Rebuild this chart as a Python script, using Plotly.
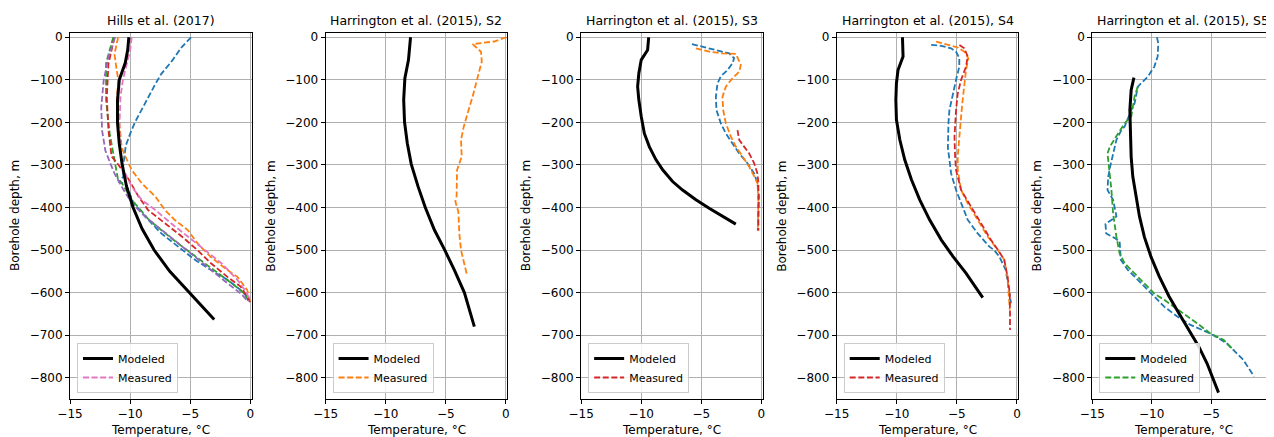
import plotly.graph_objects as go

# ---------------- data ----------------
panel_titles = ["Hills et al. (2017)", "Harrington et al. (2015), S2",
                "Harrington et al. (2015), S3", "Harrington et al. (2015), S4",
                "Harrington et al. (2015), S5"]
x_ticks = [-15, -10, -5, 0]
y_ticks = [-800, -700, -600, -500, -400, -300, -200, -100, 0]

# Hills et al. (2017)
hills_model_depth = [0, -30, -60, -100, -150, -200, -250, -300, -350, -400, -450, -500, -550, -600, -630, -663]
hills_model_temp = [-10.1, -10.2, -10.4, -10.9, -11.05, -11.05, -10.9, -10.65, -10.3, -9.75, -9.0, -8.0, -6.7, -5.1, -4.1, -3.0]
hills_blue_depth = [0, -23, -55, -86, -110, -141, -168, -200, -227, -255, -286, -310, -327, -340, -345, -355, -390, -421, -461, -492, -523, -547, -570, -594, -610, -620]
hills_blue_temp = [-4.93, -5.7, -6.5, -7.4, -7.9, -8.5, -9.0, -9.6, -10.0, -10.36, -10.5, -10.6, -10.55, -10.9, -10.4, -10.2, -9.7, -8.76, -7.4, -6.0, -4.6, -3.27, -1.9, -0.8, -0.25, -0.1]
hills_orange_depth = [0, -40, -80, -102, -141, -180, -219, -259, -280, -312, -343, -374, -406, -429, -453, -484, -516, -547, -563, -594, -620]
hills_orange_temp = [-11.0, -11.3, -11.1, -10.97, -11.1, -10.97, -10.8, -10.7, -10.4, -9.86, -9.04, -7.9, -7.1, -6.3, -5.2, -4.4, -3.3, -1.9, -1.07, -0.25, -0.05]
hills_green_depth = [0, -61, -147, -226, -288, -320, -335, -342, -382, -430, -476, -531, -582, -602, -620]
hills_green_temp = [-11.4, -12.0, -12.0, -11.7, -11.3, -11.1, -11.0, -10.7, -9.86, -8.4, -6.4, -3.8, -1.35, -0.5, -0.15]
hills_red_depth = [0, -63, -141, -219, -280, -300, -335, -374, -406, -437, -468, -500, -531, -563, -586, -610, -622]
hills_red_temp = [-11.3, -11.8, -11.94, -11.8, -11.54, -10.96, -10.1, -9.3, -8.5, -7.1, -5.7, -4.4, -3.27, -1.9, -0.8, -0.25, 0.0]
hills_purple_depth = [0, -47, -102, -165, -219, -266, -296, -320, -351, -390, -421, -453, -484, -515, -547, -578, -602, -620]
hills_purple_temp = [-11.25, -11.8, -12.2, -12.4, -12.33, -12.06, -11.65, -11.3, -10.7, -9.86, -8.76, -7.4, -6.0, -4.64, -3.27, -1.9, -0.8, -0.2]
hills_pink_depth = [0, -31, -63, -100, -141, -219, -286, -312, -351, -382, -406, -437, -468, -500, -531, -570, -602, -620]
hills_pink_temp = [-9.86, -10.0, -10.28, -10.6, -10.8, -10.9, -10.75, -10.55, -9.86, -9.04, -7.9, -6.6, -5.2, -3.8, -2.4, -1.07, -0.25, -0.1]

# Harrington et al. (2015), S2
s2_model_depth = [0, -53, -96, -147, -199, -249, -298, -351, -400, -453, -499, -547, -600, -680]
s2_model_temp = [-7.93, -8.1, -8.4, -8.5, -8.43, -8.2, -7.87, -7.3, -6.7, -5.94, -5.1, -4.28, -3.45, -2.62]
s2_orange_depth = [0, -10, -16, -34, -57, -96, -139, -179, -210, -241, -280, -312, -374, -386, -410, -461, -500, -559]
s2_orange_temp = [0.05, -0.97, -2.76, -2.07, -2.0, -2.35, -2.76, -3.18, -3.5, -3.73, -3.67, -4.06, -4.1, -4.2, -3.95, -3.87, -3.73, -3.23]

# Harrington et al. (2015), S3
s3_model_depth = [0, -30, -53, -85, -116, -147, -186, -226, -257, -288, -312, -339, -359, -382, -402, -421, -439]
s3_model_temp = [-9.38, -9.47, -10.0, -10.2, -10.3, -10.2, -10.0, -9.74, -9.33, -8.77, -8.2, -7.39, -6.56, -5.45, -4.35, -3.24, -2.13]
s3_blue_depth = [-16, -22, -30, -38, -49, -61, -77, -92, -108, -140, -171, -202, -226, -249, -273, -296, -320, -343, -375, -414, -454]
s3_blue_temp = [-5.78, -4.9, -3.79, -2.68, -2.27, -2.4, -2.82, -3.38, -3.65, -3.79, -3.74, -3.38, -2.96, -2.4, -1.85, -1.16, -0.6, -0.33, -0.2, -0.25, -0.3]
s3_orange_depth = [-26, -34, -38, -39, -53, -65, -81, -96, -116, -140, -171, -202, -233, -257, -280, -304, -327, -343, -380, -420, -455]
s3_orange_temp = [-5.45, -4.34, -3.24, -2.13, -1.9, -1.71, -1.85, -2.4, -2.96, -3.24, -3.18, -2.96, -2.55, -2.13, -1.57, -1.02, -0.6, -0.33, -0.25, -0.25, -0.3]
s3_red_depth = [-218, -241, -257, -273, -296, -320, -343, -380, -420, -454]
s3_red_temp = [-1.99, -1.85, -1.44, -1.02, -0.6, -0.33, -0.25, -0.25, -0.25, -0.25]

# Harrington et al. (2015), S4
s4_model_depth = [0, -45, -77, -108, -147, -194, -241, -288, -335, -382, -429, -476, -515, -555, -612]
s4_model_temp = [-9.53, -9.48, -9.9, -10.03, -10.08, -10.03, -9.75, -9.34, -8.78, -8.09, -7.27, -6.3, -5.33, -4.23, -2.85]
s4_blue_depth = [-18, -20, -26, -34, -49, -69, -100, -132, -171, -200, -233, -260, -288, -320, -359, -390, -429, -461, -492, -500, -515, -547, -594, -625]
s4_blue_temp = [-7.14, -6.31, -5.48, -5.07, -4.8, -4.8, -5.07, -5.34, -5.62, -5.7, -5.75, -5.75, -5.62, -5.48, -5.07, -4.65, -4.1, -3.27, -2.3, -1.9, -1.48, -0.93, -0.65, -0.5]
s4_orange_depth = [-10, -18, -24, -34, -49, -77, -108, -147, -186, -233, -280, -312, -359, -390, -429, -468, -500, -523, -562, -609, -640]
s4_orange_temp = [-6.73, -5.76, -4.93, -4.38, -4.05, -4.24, -4.38, -4.52, -4.65, -4.8, -4.93, -4.93, -4.65, -4.1, -3.27, -2.44, -1.6, -1.06, -0.79, -0.65, -0.6]
s4_red_depth = [-18, -26, -45, -69, -100, -132, -171, -202, -233, -280, -312, -359, -398, -437, -476, -504, -523, -562, -602, -650, -688]
s4_red_temp = [-4.79, -4.38, -4.1, -4.24, -4.65, -4.93, -5.07, -5.15, -5.2, -5.15, -5.07, -4.65, -3.83, -3.0, -2.17, -1.48, -1.06, -0.79, -0.6, -0.58, -0.58]

# Harrington et al. (2015), S5
s5_model_depth = [-95, -124, -171, -218, -281, -328, -375, -421, -469, -516, -562, -609, -649, -688, -727, -766, -798, -835]
s5_model_temp = [-11.5, -11.73, -11.84, -11.81, -11.73, -11.59, -11.3, -11.03, -10.62, -10.06, -9.37, -8.54, -7.7, -6.87, -6.04, -5.35, -4.93, -4.38]
s5_blue_depth = [0, -14, -45, -69, -93, -108, -116, -155, -171, -210, -218, -241, -273, -304, -328, -359, -382, -421, -439, -461, -472, -480, -523, -547, -570, -602, -633, -656, -676, -696, -719, -758, -797]
s5_blue_temp = [-9.56, -9.45, -9.5, -9.78, -10.34, -10.9, -11.17, -11.44, -11.72, -12.28, -12.55, -12.97, -13.25, -13.5, -13.66, -13.72, -13.25, -12.97, -13.89, -13.83, -13.1, -12.7, -12.6, -12.0, -11.17, -10.06, -8.95, -7.85, -6.74, -5.07, -3.69, -2.3, -1.39]
s5_green_depth = [-116, -140, -186, -202, -226, -257, -273, -359, -414, -469, -508, -531, -555, -578, -602, -617, -633, -649, -672, -696, -711, -736]
s5_green_temp = [-11.17, -11.45, -11.72, -12.28, -12.83, -13.52, -13.72, -13.39, -13.25, -12.97, -12.7, -12.28, -11.45, -10.62, -9.79, -8.95, -8.12, -7.29, -6.18, -5.07, -3.96, -3.08]

# ---------------- styling ----------------
BLUE, ORANGE, GREEN, RED, PURPLE, PINK = "#1f77b4", "#ff7f0e", "#2ca02c", "#d62728", "#9467bd", "#e377c2"
FONT = "DejaVu Sans"

panels = [
    dict(model=(hills_model_temp, hills_model_depth),
         measured=[(hills_blue_temp, hills_blue_depth, BLUE), (hills_orange_temp, hills_orange_depth, ORANGE),
                   (hills_green_temp, hills_green_depth, GREEN), (hills_red_temp, hills_red_depth, RED),
                   (hills_purple_temp, hills_purple_depth, PURPLE), (hills_pink_temp, hills_pink_depth, PINK)]),
    dict(model=(s2_model_temp, s2_model_depth),
         measured=[(s2_orange_temp, s2_orange_depth, ORANGE)]),
    dict(model=(s3_model_temp, s3_model_depth),
         measured=[(s3_blue_temp, s3_blue_depth, BLUE), (s3_orange_temp, s3_orange_depth, ORANGE),
                   (s3_red_temp, s3_red_depth, RED)]),
    dict(model=(s4_model_temp, s4_model_depth),
         measured=[(s4_blue_temp, s4_blue_depth, BLUE), (s4_orange_temp, s4_orange_depth, ORANGE),
                   (s4_red_temp, s4_red_depth, RED)]),
    dict(model=(s5_model_temp, s5_model_depth),
         measured=[(s5_blue_temp, s5_blue_depth, BLUE), (s5_green_temp, s5_green_depth, GREEN)]),
]

# the page body has an 8px margin, so the figure is drawn 8px in from the top-left corner
BODY = 8
W, H = 1274 - BODY, 437 - BODY
ML, MR, MT, MB = 62, 0, 25, 38
PW, PH = W - ML - MR, H - MT - MB
PANEL_STEP, PANEL_W = 256, 182

fig = go.Figure()
layout = dict(width=W, height=H, autosize=False,
              margin=dict(l=ML, r=MR, t=MT, b=MB, pad=0),
              paper_bgcolor="white", plot_bgcolor="white",
              font=dict(family=FONT, size=12, color="black"),
              showlegend=True, annotations=[])

for i, p in enumerate(panels):
    sfx = "" if i == 0 else str(i + 1)
    xa, ya = "x" + sfx, "y" + sfx
    lg = "legend" + sfx
    x0 = i * PANEL_STEP / PW
    x1 = min(1.0, (i * PANEL_STEP + PANEL_W) / PW)
    for j, (t, d, c) in enumerate(p["measured"]):
        last = j == len(p["measured"]) - 1
        fig.add_trace(go.Scatter(x=t, y=d, mode="lines", xaxis=xa, yaxis=ya,
                                 line=dict(color=c, width=1.8, dash="6px,2.6px"),
                                 name="Measured", showlegend=last, legend=lg, legendrank=2))
    mt, md = p["model"]
    fig.add_trace(go.Scatter(x=mt, y=md, mode="lines", xaxis=xa, yaxis=ya,
                             line=dict(color="black", width=3), name="Modeled",
                             showlegend=True, legend=lg, legendrank=1))

    common = dict(showline=True, linecolor="black", linewidth=1, mirror=True,
                  ticks="outside", ticklen=4, tickcolor="black", tickwidth=1,
                  showgrid=True, gridcolor="#b0b0b0", gridwidth=1, zeroline=False,
                  tickfont=dict(family=FONT, size=12, color="black"))
    layout["xaxis" + sfx] = dict(common, domain=[x0, x1], anchor=ya, range=[-15, 0.12],
                                 tickvals=x_ticks)
    layout["yaxis" + sfx] = dict(common, domain=[0, 1], anchor=xa, range=[-850, 10],
                                 tickvals=y_ticks)
    layout[lg] = dict(x=x0 + 7 / PW, y=6 / PH, xref="paper", yref="paper",
                      xanchor="left", yanchor="bottom",
                      bgcolor="rgba(255,255,255,0.85)", bordercolor="#cccccc", borderwidth=1,
                      font=dict(family=FONT, size=11, color="black"),
                      itemwidth=30, tracegroupgap=0)
    # panel title
    layout["annotations"].append(dict(text=panel_titles[i], xref="paper", yref="paper",
                                      x=(i * PANEL_STEP + PANEL_W / 2) / PW, y=1,
                                      xanchor="center", yanchor="bottom", yshift=3,
                                      showarrow=False, font=dict(family=FONT, size=12.5, color="black")))
    # x-axis title
    layout["annotations"].append(dict(text="Temperature, °C", xref="paper", yref="paper",
                                      x=(i * PANEL_STEP + PANEL_W / 2) / PW, y=-31 / PH,
                                      xanchor="center", yanchor="middle",
                                      showarrow=False, font=dict(family=FONT, size=12, color="black")))
    # y-axis title
    layout["annotations"].append(dict(text="Borehole depth, m", xref="paper", yref="paper",
                                      x=(i * PANEL_STEP - 55) / PW, y=0.5, textangle=-90,
                                      xanchor="center", yanchor="middle",
                                      showarrow=False, font=dict(family=FONT, size=12, color="black")))

fig.update_layout(**layout)
fig.write_html("out.html")
